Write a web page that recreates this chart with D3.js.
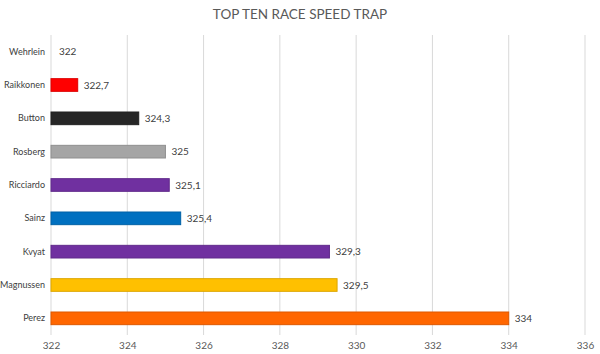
<!DOCTYPE html>
<html>
<head>
<meta charset="utf-8">
<script src="https://cdn.jsdelivr.net/npm/d3@7"></script>
<style>
	body { margin: 0; background: #fff; }
	text { font-family: Lato, 'Open Sans', sans-serif; }
</style>
</head>
<body>
<div class="chart"></div>
<script>
// TOP TEN RACE SPEED TRAP - horizontal bars
const drivers = ['Wehrlein', 'Raikkonen', 'Button', 'Rosberg', 'Ricciardo', 'Sainz', 'Kvyat', 'Magnussen', 'Perez'];
const speeds = [322, 322.7, 324.3, 325, 325.1, 325.4, 329.3, 329.5, 334];
const barColors = ['#7f7f7f', '#ff0000', '#262626', '#a5a5a5', '#7030a0', '#0070c0', '#7030a0', '#ffc000', '#ff6600'];
const xTicks = [322, 324, 326, 328, 330, 332, 334, 336];

const margin = { top: 35, right: 15, bottom: 20, left: 51 };

const svg = d3.select('.chart')
	.append('svg')
		.attr('width', 600)
		.attr('height', 354);

svg.append('text')
	.attr('x', 300)
	.attr('y', 19)
	.attr('text-anchor', 'middle')
	.style('font-size', '13.5px')
	.style('fill', '#595959')
	.text('TOP TEN RACE SPEED TRAP');

const g = svg.append('g')
	.attr('transform', `translate(${margin.left}, ${margin.top})`);

const xScale = d3.scaleLinear()
	.domain([322, 336])
	.range([0, 534]);

const yScale = d3.scaleBand()
	.domain(drivers)
	.range([0, 300])
	.paddingInner(0.62)
	.paddingOuter(0.31);

// gridlines
g.selectAll('.grid')
	.data(xTicks)
	.enter()
	.append('line')
	.attr('x1', d => xScale(d))
	.attr('x2', d => xScale(d))
	.attr('y1', 0)
	.attr('y2', 300)
	.style('stroke', '#d9d9d9')
	.style('stroke-width', 1);

// x axis labels
const xAxis = g.append('g')
	.attr('transform', 'translate(0, 300)')
	.call(d3.axisBottom(xScale).tickValues(xTicks).tickSize(0).tickPadding(7));
xAxis.select('.domain').remove();
xAxis.selectAll('text')
	.style('font-family', 'Lato, sans-serif')
	.style('font-size', '10px')
	.style('fill', '#595959')
	.attr('dy', '0.71em');

// y axis labels
const yAxis = g.append('g')
	.call(d3.axisLeft(yScale).tickSize(0).tickPadding(6));
yAxis.select('.domain').remove();
yAxis.selectAll('text')
	.style('font-family', 'Lato, sans-serif')
	.style('font-size', '9px')
	.style('fill', '#404040');

const data = drivers.map((name, i) => ({ name, speed: speeds[i], color: barColors[i] }));

// bars
g.selectAll('.bar')
	.data(data)
	.enter()
	.append('rect')
	.attr('class', 'bar')
	.attr('x', xScale(322))
	.attr('y', d => yScale(d.name))
	.attr('width', d => xScale(d.speed) - xScale(322))
	.attr('height', yScale.bandwidth())
	.style('fill', d => d.color)
	.style('stroke', d => d3.color(d.color).darker(0.4))
	.style('stroke-width', d => d.speed > 322 ? 1 : 0);

// value labels
const fmt = d3.formatLocale({ decimal: ',', thousands: '.', grouping: [3], currency: ['', ''] }).format('~g');
g.selectAll('.val')
	.data(data)
	.enter()
	.append('text')
	.attr('x', d => xScale(d.speed) + (d.speed > 322 ? 6 : 8))
	.attr('y', d => yScale(d.name) + yScale.bandwidth() / 2)
	.attr('dy', '0.35em')
	.style('font-size', '10px')
	.style('fill', '#404040')
	.text(d => fmt(d.speed));
</script>
</body>
</html>
